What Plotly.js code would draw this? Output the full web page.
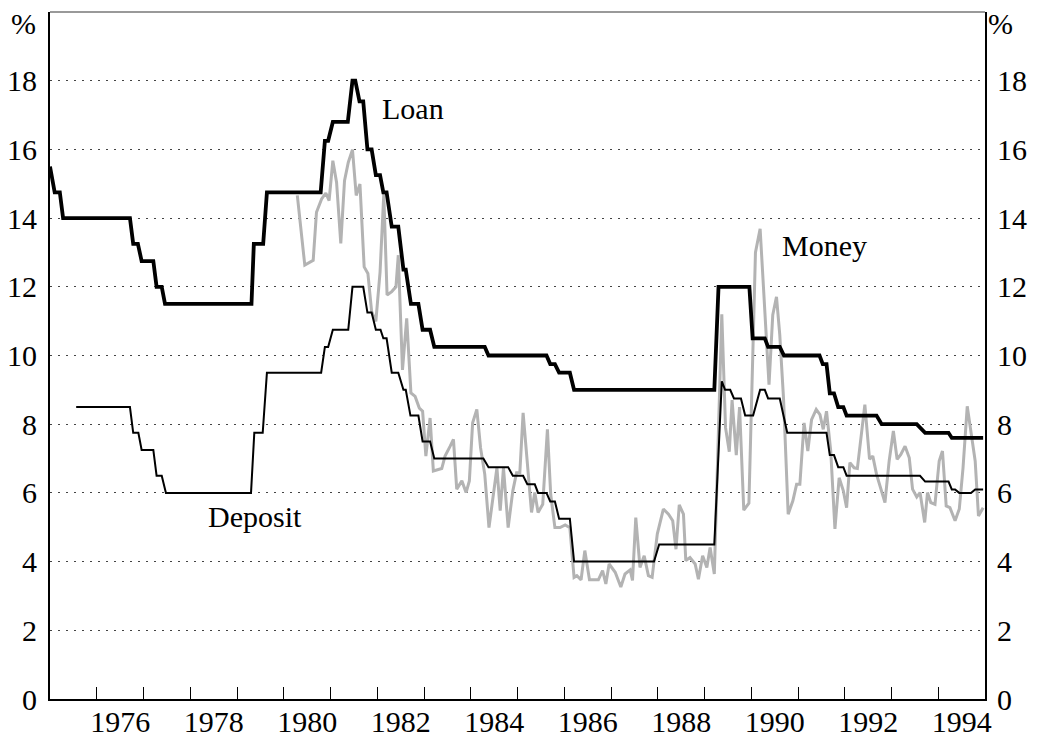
<!DOCTYPE html>
<html>
<head>
<meta charset="utf-8">
<script src="https://cdn.plot.ly/plotly-3.0.1.min.js"></script>
<style>
  html, body { margin: 0; padding: 0; background: #fff; }
  #plotArea { width: 1039px; height: 740px; }
</style>
</head>
<body>
<div id="plotArea"></div>
<script>
// Loan rate (thick black step line)
var loanYears = [1975.00, 1975.10, 1975.21, 1975.28, 1976.71, 1976.78, 1976.88, 1976.96, 1977.21, 1977.28,
  1977.39, 1977.46, 1979.31, 1979.36, 1979.56, 1979.64, 1980.79, 1980.88, 1980.95, 1981.05,
  1981.37, 1981.47, 1981.53, 1981.62, 1981.70, 1981.79, 1981.88, 1981.97, 1982.06, 1982.13,
  1982.20, 1982.31, 1982.45, 1982.56, 1982.61, 1982.72, 1982.88, 1982.97, 1983.13, 1983.22,
  1984.30, 1984.38, 1985.62, 1985.70, 1985.80, 1985.89, 1986.12, 1986.21, 1989.21, 1989.30,
  1989.96, 1990.03, 1990.29, 1990.36, 1990.61, 1990.70, 1991.46, 1991.53, 1991.61, 1991.68,
  1991.77, 1991.86, 1991.97, 1992.04, 1992.68, 1992.79, 1993.54, 1993.72, 1994.22, 1994.29,
  1994.96];
var loanRates = [15.5, 14.75, 14.75, 14.0, 14.0, 13.25, 13.25, 12.75, 12.75, 12.0,
  12.0, 11.5, 11.5, 13.25, 13.25, 14.75, 14.75, 16.25, 16.25, 16.8,
  16.8, 18.0, 18.0, 17.4, 17.4, 16.0, 16.0, 15.25, 15.25, 14.75,
  14.75, 13.75, 13.75, 12.5, 12.5, 11.5, 11.5, 10.75, 10.75, 10.25,
  10.25, 10.0, 10.0, 9.75, 9.75, 9.5, 9.5, 9.0, 9.0, 12.0,
  12.0, 10.5, 10.5, 10.25, 10.25, 10.0, 10.0, 9.75, 9.75, 8.9,
  8.9, 8.5, 8.5, 8.25, 8.25, 8.0, 8.0, 7.75, 7.75, 7.6,
  7.6];

// Deposit rate (thin black step line)
var depositYears = [1975.56, 1976.71, 1976.78, 1976.89, 1976.96, 1977.21, 1977.28, 1977.39, 1977.48, 1979.30,
  1979.37, 1979.55, 1979.64, 1980.80, 1980.88, 1980.95, 1981.05, 1981.38, 1981.47, 1981.70,
  1981.79, 1981.88, 1981.97, 1982.07, 1982.13, 1982.20, 1982.31, 1982.45, 1982.56, 1982.61,
  1982.71, 1982.88, 1982.97, 1983.13, 1983.22, 1984.27, 1984.38, 1984.80, 1984.90, 1985.12,
  1985.21, 1985.37, 1985.44, 1985.62, 1985.70, 1985.80, 1985.89, 1986.12, 1986.21, 1987.92,
  1988.03, 1989.21, 1989.37, 1989.44, 1989.55, 1989.63, 1989.78, 1989.87, 1990.04, 1990.13,
  1990.19, 1990.29, 1990.36, 1990.61, 1990.77, 1991.61, 1991.68, 1991.77, 1991.86, 1991.97,
  1992.04, 1993.61, 1993.72, 1994.22, 1994.29, 1994.36, 1994.45, 1994.70, 1994.79, 1994.96];
var depositRates = [8.5, 8.5, 7.75, 7.75, 7.25, 7.25, 6.5, 6.5, 6.0, 6.0,
  7.75, 7.75, 9.5, 9.5, 10.25, 10.25, 10.75, 10.75, 12.0, 12.0,
  11.25, 11.25, 10.75, 10.75, 10.5, 10.5, 9.5, 9.5, 9.0, 9.0,
  8.25, 8.25, 7.5, 7.5, 7.0, 7.0, 6.75, 6.75, 6.5, 6.5,
  6.25, 6.25, 6.0, 6.0, 5.75, 5.75, 5.25, 5.25, 4.0, 4.0,
  4.5, 4.5, 9.25, 9.0, 9.0, 8.75, 8.75, 8.25, 8.25, 8.75,
  9.0, 9.0, 8.75, 8.75, 7.75, 7.75, 7.1, 7.1, 6.75, 6.75,
  6.5, 6.5, 6.33, 6.33, 6.1, 6.1, 6.0, 6.0, 6.1, 6.1];

// Money market rate (grey line)
var moneyYears = [1980.29, 1980.45, 1980.63, 1980.70, 1980.81, 1980.90, 1980.97, 1981.05, 1981.13, 1981.22,
  1981.30, 1981.38, 1981.47, 1981.55, 1981.63, 1981.72, 1981.80, 1981.88, 1981.97, 1982.06,
  1982.14, 1982.21, 1982.31, 1982.40, 1982.45, 1982.54, 1982.63, 1982.72, 1982.81, 1982.90,
  1982.97, 1983.04, 1983.13, 1983.20, 1983.38, 1983.45, 1983.56, 1983.63, 1983.70, 1983.81,
  1983.90, 1983.97, 1984.04, 1984.13, 1984.21, 1984.30, 1984.39, 1984.47, 1984.56, 1984.63,
  1984.70, 1984.80, 1984.90, 1984.98, 1985.05, 1985.12, 1985.21, 1985.30, 1985.37, 1985.44,
  1985.54, 1985.64, 1985.71, 1985.80, 1985.91, 1986.02, 1986.12, 1986.21, 1986.27, 1986.36,
  1986.44, 1986.54, 1986.73, 1986.82, 1986.89, 1986.96, 1987.09, 1987.21, 1987.30, 1987.41,
  1987.46, 1987.53, 1987.62, 1987.71, 1987.80, 1987.88, 1987.99, 1988.12, 1988.23, 1988.32,
  1988.39, 1988.46, 1988.55, 1988.60, 1988.69, 1988.80, 1988.87, 1988.96, 1989.05, 1989.12,
  1989.21, 1989.37, 1989.45, 1989.53, 1989.59, 1989.68, 1989.75, 1989.84, 1989.95, 1990.09,
  1990.19, 1990.29, 1990.38, 1990.46, 1990.54, 1990.61, 1990.69, 1990.79, 1990.89, 1990.97,
  1991.04, 1991.13, 1991.21, 1991.29, 1991.39, 1991.47, 1991.54, 1991.61, 1991.70, 1991.79,
  1991.88, 1991.97, 1992.04, 1992.11, 1992.20, 1992.27, 1992.34, 1992.43, 1992.53, 1992.60,
  1992.68, 1992.77, 1992.86, 1992.95, 1993.04, 1993.12, 1993.20, 1993.29, 1993.38, 1993.45,
  1993.54, 1993.61, 1993.71, 1993.77, 1993.84, 1993.93, 1994.02, 1994.09, 1994.17, 1994.25,
  1994.36, 1994.45, 1994.53, 1994.62, 1994.70, 1994.79, 1994.86, 1994.96];
var moneyRates = [14.66, 12.63, 12.77, 14.17, 14.56, 14.73, 14.51, 15.67, 15.04, 13.26,
  15.09, 15.62, 15.99, 14.66, 14.99, 12.58, 12.39, 11.28, 10.99, 12.43,
  14.70, 11.76, 11.86, 12.0, 12.92, 9.58, 11.08, 8.91, 8.81, 8.47,
  8.38, 7.07, 8.18, 6.64, 6.71, 7.07, 7.36, 7.56, 6.11, 6.35,
  6.01, 6.35, 8.04, 8.43, 7.31, 6.54, 4.99, 5.86, 6.73, 5.48,
  6.73, 4.99, 6.06, 6.59, 6.59, 8.33, 6.83, 5.43, 6.01, 5.43,
  5.67, 7.85, 5.96, 4.99, 4.99, 5.07, 4.99, 3.54, 3.59, 3.47,
  4.32, 3.47, 3.47, 3.74, 3.35, 3.93, 3.69, 3.26, 3.64, 3.76,
  3.45, 5.28, 3.83, 4.17, 3.59, 3.54, 4.80, 5.53, 5.38, 5.19,
  4.36, 5.65, 5.38, 4.03, 4.12, 3.93, 3.49, 4.17, 3.83, 4.41,
  3.64, 11.2, 7.9, 7.2, 8.7, 7.1, 8.5, 5.5, 5.7, 13.0,
  13.69, 11.47, 9.15, 11.18, 11.71, 10.6, 8.76, 5.38, 5.77, 6.25,
  6.25, 8.04, 7.22, 8.13, 8.43, 8.28, 7.85, 8.38, 7.22, 4.95,
  6.44, 6.06, 5.57, 6.88, 6.73, 6.71, 7.51, 8.57, 6.98, 7.07,
  6.54, 6.15, 5.72, 6.93, 7.80, 6.98, 7.12, 7.36, 7.02, 6.11,
  5.88, 6.01, 5.14, 6.01, 5.72, 5.67, 6.93, 7.22, 5.62, 5.57,
  5.19, 5.53, 6.73, 8.52, 7.70, 6.93, 5.33, 5.57];

// axis labels
var yearTicks = [1976, 1977, 1978, 1979, 1980, 1981, 1982, 1983, 1984, 1985,
  1986, 1987, 1988, 1989, 1990, 1991, 1992, 1993, 1994];
var yearLabelPos = [1976.5, 1978.5, 1980.5, 1982.5, 1984.5, 1986.5, 1988.5, 1990.5, 1992.5, 1994.5];
var yearLabels = ["1976", "1978", "1980", "1982", "1984", "1986", "1988", "1990", "1992", "1994"];
var pctTicks = [0, 2, 4, 6, 8, 10, 12, 14, 16, 18];

var serif = "'Liberation Serif', 'Times New Roman', serif";

var traces = [
  {x: moneyYears, y: moneyRates, mode: "lines", type: "scatter",
   line: {color: "#b3b3b3", width: 3}, name: "Money"},
  {x: depositYears, y: depositRates, mode: "lines", type: "scatter",
   line: {color: "#000", width: 2}, name: "Deposit"},
  // loan sits on the right-hand axis (same scale) so that axis gets drawn
  {x: loanYears, y: loanRates, yaxis: "y2", mode: "lines", type: "scatter",
   line: {color: "#000", width: 3.8}, name: "Loan"}
];

var layout = {
  width: 1039, height: 740,
  margin: {l: 50, r: 54, t: 12, b: 41},
  paper_bgcolor: "#fff", plot_bgcolor: "#fff",
  showlegend: false,
  font: {family: serif, size: 30, color: "#000"},
  xaxis: {
    range: [1975, 1995], showgrid: false, zeroline: false,
    showline: true, linecolor: "#000", linewidth: 2,
    tickmode: "array", tickvals: yearLabelPos, ticktext: yearLabels,
    ticks: "", ticklabelstandoff: -5,
    minor: {tickmode: "array", tickvals: yearTicks, ticks: "inside", ticklen: 12,
            tickwidth: 1, tickcolor: "#000", showgrid: false}
  },
  yaxis: {
    range: [0, 20], zeroline: false,
    showline: true, linecolor: "#000", linewidth: 2,
    tickmode: "array", tickvals: pctTicks, ticks: "", ticklabelstandoff: 5,
    showgrid: true, gridcolor: "#444", gridwidth: 1, griddash: "2px,6px"
  },
  yaxis2: {
    overlaying: "y", side: "right", anchor: "x",
    range: [0, 20], zeroline: false, showgrid: false,
    showline: true, linecolor: "#000", linewidth: 2,
    tickmode: "array", tickvals: pctTicks, ticks: "", ticklabelstandoff: 4
  },
  shapes: [
    {type: "line", xref: "paper", yref: "paper", x0: 0, x1: 1, y0: 1, y1: 1,
     line: {color: "#777", width: 1.5}}
  ],
  annotations: [
    {text: "%", xref: "paper", yref: "paper", x: -0.028, y: 0.983, showarrow: false,
     xanchor: "center", yanchor: "middle"},
    {text: "%", xref: "paper", yref: "paper", x: 1.017, y: 0.983, showarrow: false,
     xanchor: "center", yanchor: "middle"},
    {text: "Loan", x: 1982.76, y: 17.2, showarrow: false},
    {text: "Money", x: 1991.56, y: 13.2, showarrow: false},
    {text: "Deposit", x: 1979.39, y: 5.3, showarrow: false}
  ]
};

Plotly.newPlot("plotArea", traces, layout, {staticPlot: true});
</script>
</body>
</html>
